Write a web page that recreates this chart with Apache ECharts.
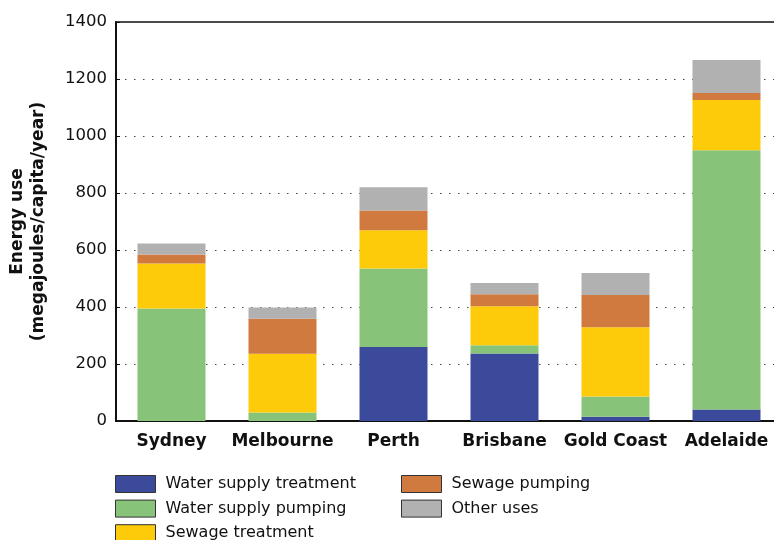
<!DOCTYPE html>
<html><head><meta charset="utf-8">
<script src="https://cdn.jsdelivr.net/npm/echarts@6/dist/echarts.min.js"></script>
<style>html,body{margin:0;padding:0;background:#fff}#c{width:774px;height:540px}</style>
</head><body><div id="c"></div>
<script>
const categories = ['Sydney','Melbourne','Perth','Brisbane','Gold Coast','Adelaide'];
const seriesNames = ['Water supply treatment','Water supply pumping','Sewage treatment','Sewage pumping','Other uses'];
const waterSupplyTreatment = [0, 0, 260, 237, 15, 40];
const waterSupplyPumping   = [395, 30, 275, 29, 71, 910];
const sewageTreatment      = [158, 206, 134, 137, 243, 176];
const sewagePumping        = [31, 123, 70, 42, 113, 25];
const otherUses            = [39, 39, 81, 39, 77, 116];
const yTicks = [0, 200, 400, 600, 800, 1000, 1200, 1400];

const colors = ['#3c4a9b','#87c479','#fdcb09','#d07a40','#b1b1b1'];
const values = [waterSupplyTreatment, waterSupplyPumping, sewageTreatment, sewagePumping, otherUses];
const font = 'DejaVu Sans';

const chart = echarts.init(document.getElementById('c'), null, {renderer:'canvas'});
const legendBase = {
  orient:'vertical', icon:'rect', itemWidth:40, itemHeight:17, itemGap:6.6, padding:0, height:100,
  textStyle:{fontFamily:font, fontSize:16, lineHeight:17, color:'#111', padding:[0,0,0,5]},
  itemStyle:{borderColor:'#333', borderWidth:1}, selectedMode:false
};
chart.setOption({
  animation:false,
  color: colors,
  grid:{left:116, right:-8, top:22, bottom:119, show:true, borderColor:'#111', borderWidth:1.5,
        outerBoundsMode:'none', containLabel:false},
  legend:[
    Object.assign({}, legendBase, {left:115, top:475, data:seriesNames.slice(0,3)}),
    Object.assign({}, legendBase, {left:401, top:475, data:seriesNames.slice(3)})
  ],
  xAxis:[{
    type:'category', data:categories,
    axisLine:{lineStyle:{color:'#111', width:2}},
    axisTick:{inside:true, length:4, lineStyle:{color:'#111'}},
    axisLabel:{interval:0, fontFamily:font, fontSize:17, fontWeight:'bold', color:'#111', margin:12}
  },{
    type:'category', data:categories, position:'top',
    axisLine:{show:false},
    axisTick:{inside:true, length:4, lineStyle:{color:'#111'}},
    axisLabel:{show:false}
  }],
  yAxis:{
    type:'value', min:yTicks[0], max:yTicks[yTicks.length-1], interval:yTicks[1]-yTicks[0],
    name:'Energy use\n(megajoules/capita/year)', nameLocation:'middle', nameGap:67,
    nameTextStyle:{fontFamily:font, fontSize:17, fontWeight:'bold', color:'#111', lineHeight:21},
    axisLine:{show:true, lineStyle:{color:'#111', width:2}},
    axisTick:{show:true, inside:true, length:4, lineStyle:{color:'#111'}},
    axisLabel:{fontFamily:font, fontSize:16.5, color:'#111', margin:9, formatter:v=>String(v)},
    splitLine:{show:true, lineStyle:{color:'#444', width:1, type:[1.5,7.5]}}
  },
  series: seriesNames.map((n,i)=>({
    name:n, type:'bar', stack:'total', barWidth:68, data:values[i],
    itemStyle:{color:colors[i]}
  }))
});
</script></body></html>
